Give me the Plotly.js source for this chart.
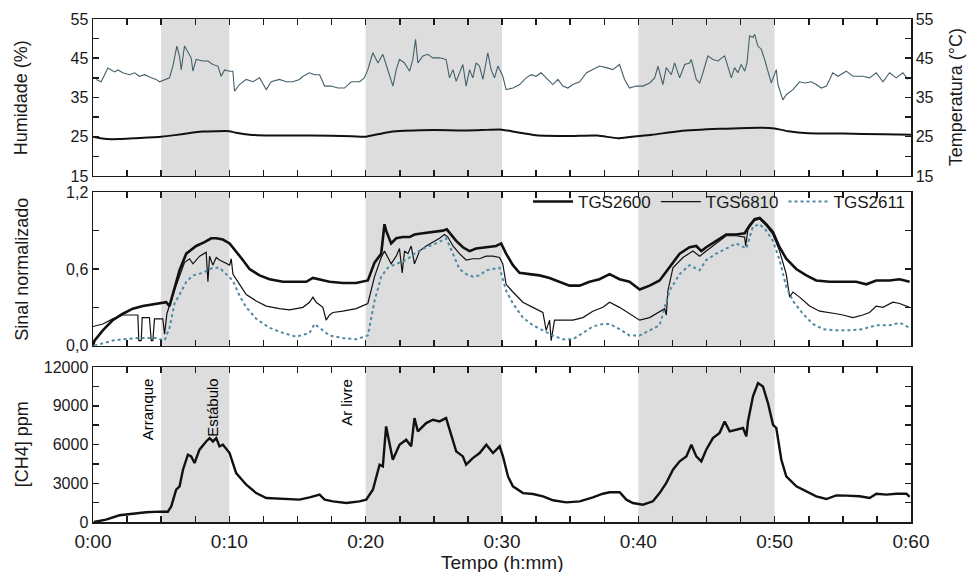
<!DOCTYPE html>
<html>
<head>
<meta charset="utf-8">
<script src="https://cdn.plot.ly/plotly-3.0.1.min.js"></script>
<style>html,body{margin:0;padding:0;background:#fff}#chart{width:968px;height:572px}</style>
</head>
<body>
<div id="chart"></div>
<script>
// ---------- DATA ----------
// Shaded exposure periods (minutes)
const shadeStart = [5, 20, 40];
const shadeEnd   = [10, 30, 50];

// Top panel: humidity (%) and temperature (°C)
const humT = [0.23,0.6,1.09,1.58,1.82,2.19,2.68,3.05,3.41,3.78,4.27,4.63,4.88,5.25,5.61,5.86,6.15,6.35,6.47,6.71,6.96,7.2,7.33,7.57,8.06,8.43,8.79,9.16,9.4,9.65,10.02,10.26,10.38,10.75,11.24,11.73,12.22,12.71,13.07,13.68,14.17,14.66,15.15,15.4,15.88,16.25,16.62,16.99,17.47,17.96,18.45,18.94,19.55,
  19.9,20.16,20.53,20.9,21.26,21.5,22,22.24,22.48,22.85,23.22,23.46,23.66,23.83,24.2,24.56,24.93,25.42,25.9,26.15,26.4,26.64,26.88,27.13,27.37,27.62,27.86,28.1,28.35,28.6,28.96,29.2,29.45,29.7,30.06,30.3,30.8,31.3,31.77,32.14,32.5,32.87,33.24,33.73,34.1,34.46,34.83,35.2,35.7,36.2,36.66,37.15,37.64,38.13,38.62,38.99,39.35,39.84,
  40.34,40.83,41.2,41.44,41.8,42.05,42.42,42.66,43.03,43.4,43.76,43.88,44.25,44.5,44.74,45.1,45.47,45.84,46.33,46.7,46.82,47.06,47.3,47.55,47.8,47.97,48.16,48.4,48.53,48.77,49.02,49.26,49.5,49.75,50.12,50.24,50.6,50.85,51.34,51.83,52.2,52.68,53.05,53.42,53.8,54.27,54.64,55.25,55.74,56.47,56.96,57.45,57.94,58.43,58.92,59.4,59.77];
const humV = [39.6,39,42.5,41.5,42,41.3,40.8,41.3,40.4,40.8,40,39.6,39,39.6,40,43,48.1,45.5,42,48.1,46.4,45.1,41.7,44.7,44.3,44.3,43.4,43,40.4,42,41.7,41.7,36.6,38.3,39.6,39,40,37,39,39.6,39,39,39.6,40.4,41.3,40.8,40.8,37.9,37.9,37.4,37.4,39,39,
  40,42.1,46.4,43.8,46,43.4,37.9,42.1,44.7,43.8,41.7,44.7,49.8,43.8,45.6,46,45.1,45.1,44.7,40,42.1,39.1,41.3,43.4,37.9,42.1,40,43.8,43,39.6,46.4,42.1,40,43,40.4,37,37.4,38.3,40,40.8,40.4,41.3,40,38.3,39.6,37.9,37.4,38.3,39,41.3,42.1,43,42.6,42.1,43.4,39.6,37.4,37.9,
  37.9,38.7,40,43,38.3,42.6,40.8,43.8,40,43.4,43.8,44.7,39.6,38.7,41.3,45.6,44.7,44.3,45.6,41.3,40,42.6,41.3,43.4,41.7,43.8,50.7,50.3,51.1,48.1,47.3,44.7,41.7,38.7,42.1,38.3,34.4,35.7,37,39,38.7,39,38.3,37.4,37.9,41.3,40.4,41.7,40.4,40.4,40,41.3,39,41.3,40,41.3,39.6];

const tempT = [0,1,2,3,5,6,7,8,9,10,10.5,11.5,13,16,19,20,21,22,25,27,28.5,30,31,32.5,35,37,38.5,39.5,41,43,46,49,50,51,52.5,55,58,60];
const tempV = [25,24.4,24.4,24.6,25,25.4,25.9,26.3,26.4,26.4,26,25.5,25.3,25.3,25.1,25,25.7,26.3,26.7,26.6,26.7,26.8,26.2,25.4,25.2,25.3,24.6,25,25.5,26.4,27,27.3,27.1,26.4,25.9,25.8,25.6,25.5];

// Middle panel: normalised sensor signals
const tgs2600T = [0,0.11,0.72,1.45,2.19,2.92,3.66,4.63,5.37,5.61,5.98,6.35,6.84,7.08,7.57,8.18,8.67,9.04,9.52,10.02,10.5,10.99,11.48,12.22,12.95,13.93,14.9,15.64,16.13,16.62,17.35,18.33,19.3,20.16,20.65,21.14,21.38,21.5,21.87,22.24,22.73,23.22,23.58,24.2,24.93,25.66,25.95,26.27,26.64,27.13,27.62,28.1,28.84,29.57,29.94,30.3,30.8,31.28,32.02,32.75,33.49,34.22,34.95,35.69,36.42,37.15,37.89,38.62,39.35,40.1,40.83,41.56,42.29,43.03,43.76,44.25,44.62,44.98,45.72,46.45,47.18,47.8,48.16,48.53,48.9,49.38,49.87,50.36,50.85,51.58,52.32,53.05,54.03,55,55.98,56.72,57.45,58.43,59.16,59.9];
const tgs2600V = [0,0.04,0.12,0.2,0.25,0.29,0.31,0.33,0.34,0.31,0.46,0.59,0.72,0.74,0.78,0.81,0.84,0.84,0.83,0.8,0.74,0.67,0.6,0.55,0.52,0.5,0.5,0.5,0.53,0.52,0.5,0.49,0.49,0.51,0.65,0.72,0.95,0.9,0.8,0.84,0.85,0.85,0.87,0.88,0.89,0.9,0.91,0.87,0.82,0.77,0.74,0.76,0.77,0.78,0.8,0.72,0.63,0.57,0.56,0.55,0.53,0.5,0.47,0.47,0.5,0.52,0.56,0.52,0.5,0.44,0.47,0.51,0.61,0.72,0.77,0.78,0.74,0.77,0.82,0.87,0.87,0.88,0.94,0.99,1.0,0.95,0.89,0.77,0.68,0.6,0.55,0.51,0.5,0.5,0.5,0.48,0.51,0.51,0.52,0.5];

const tgs6810T = [0,0.72,1.45,2.19,2.92,3.29,3.36,3.54,3.61,4.14,4.27,4.39,4.51,5.12,5.25,5.42,5.86,6.35,6.71,7.08,7.33,7.82,8.3,8.43,8.55,8.79,9.04,9.28,9.65,10.02,10.14,10.26,10.75,11.24,11.97,12.71,13.68,14.41,15.4,15.88,16.13,16.37,16.86,17.1,17.35,17.6,18.33,19.3,20.16,20.65,21.14,21.38,21.63,21.87,22.24,22.48,22.68,22.85,23.1,23.34,23.58,23.95,24.44,24.93,25.42,25.78,26.03,26.4,26.88,27.37,27.86,28.35,28.84,29.33,29.82,30.06,30.3,30.8,31.53,32.26,33,33.24,33.49,33.61,33.85,34.46,35.2,35.93,36.66,37.4,37.89,38.62,39.35,40.1,40.83,41.56,41.93,42.05,42.17,42.54,43.27,44,44.5,44.98,45.72,46.45,47.18,47.8,47.87,48.04,48.53,48.9,49.38,49.87,50.36,50.85,51.1,51.34,51.83,52.56,53.3,54.03,54.52,55,55.74,56.47,56.96,57.45,57.94,58.67,59.16,59.9];
const tgs6810V = [0.15,0.17,0.21,0.24,0.24,0.24,0.04,0.04,0.22,0.22,0.04,0.04,0.21,0.21,0.09,0.25,0.4,0.55,0.65,0.68,0.64,0.7,0.73,0.5,0.7,0.63,0.69,0.67,0.65,0.63,0.68,0.56,0.48,0.4,0.35,0.31,0.29,0.28,0.3,0.34,0.38,0.34,0.3,0.2,0.24,0.26,0.27,0.29,0.33,0.54,0.69,0.74,0.69,0.64,0.7,0.76,0.57,0.74,0.72,0.78,0.64,0.74,0.78,0.81,0.84,0.87,0.85,0.78,0.72,0.67,0.68,0.68,0.7,0.7,0.69,0.64,0.48,0.42,0.34,0.3,0.26,0.12,0.2,0.04,0.2,0.2,0.2,0.22,0.27,0.3,0.34,0.3,0.25,0.2,0.22,0.27,0.29,0.24,0.43,0.61,0.69,0.74,0.7,0.74,0.8,0.86,0.86,0.85,0.78,0.91,0.98,0.99,0.94,0.87,0.74,0.56,0.38,0.42,0.38,0.31,0.27,0.26,0.25,0.24,0.22,0.24,0.26,0.31,0.3,0.34,0.33,0.3];

const tgs2611T = [0.1,0.72,1.45,2.19,3.41,4.63,5.25,5.61,5.98,6.35,6.84,7.33,8.06,8.79,9.28,9.77,10.26,10.75,11.24,11.97,12.95,13.93,14.9,15.88,16.25,16.86,17.35,18.33,19.3,20.16,20.65,21.14,21.63,22.24,22.97,23.71,24.44,25.17,25.91,26.4,26.88,27.37,27.86,28.35,28.84,29.33,29.82,30.3,30.8,31.53,32.26,33,33.73,34.46,35.2,35.93,36.66,37.4,37.89,38.62,39.35,40.1,40.83,41.56,42.29,43.03,43.76,44.49,44.98,45.72,46.45,47.18,47.92,48.4,48.9,49.38,49.87,50.36,50.85,51.34,52.07,52.8,53.54,54.52,55.49,56.47,57.45,58.43,59.16,59.9];
const tgs2611V = [0,0.02,0.04,0.05,0.06,0.06,0.04,0.14,0.33,0.4,0.5,0.55,0.57,0.61,0.61,0.56,0.51,0.39,0.3,0.21,0.14,0.1,0.07,0.1,0.17,0.12,0.08,0.06,0.05,0.08,0.35,0.54,0.61,0.64,0.67,0.73,0.77,0.8,0.84,0.72,0.6,0.56,0.54,0.55,0.59,0.6,0.61,0.43,0.33,0.22,0.16,0.12,0.08,0.05,0.05,0.1,0.15,0.17,0.17,0.13,0.08,0.08,0.12,0.16,0.43,0.56,0.63,0.59,0.67,0.72,0.76,0.8,0.76,0.93,0.95,0.9,0.82,0.67,0.46,0.35,0.25,0.17,0.13,0.12,0.12,0.13,0.16,0.16,0.18,0.14];

// Bottom panel: CH4 concentration (ppm)
const ch4T = [0.06,0.96,1.94,2.92,3.9,4.88,5.49,5.74,6.1,6.35,6.6,6.96,7.2,7.45,7.81,8.3,8.55,8.8,9.04,9.28,9.53,10.02,10.5,11.24,11.97,12.71,13.93,15.15,15.89,16.62,16.99,17.6,18.58,19.55,20.04,20.53,21.02,21.26,21.5,21.99,22.48,22.97,23.34,23.58,23.83,24.44,24.93,25.42,25.9,26.27,26.64,27.13,27.37,27.86,28.36,28.85,29.34,29.83,30.07,30.44,30.8,31.54,32.27,33.01,33.74,34.72,35.7,36.67,37.4,37.9,38.63,39.12,39.6,40.34,41.07,41.56,42.05,42.54,43.03,43.52,43.89,44.25,44.62,44.98,45.47,45.96,46.33,46.7,47.19,47.68,47.92,48.04,48.41,48.78,49.14,49.51,49.88,50.12,50.49,50.85,51.59,52.32,53.05,53.79,54.52,55.25,56.23,56.97,57.46,58.19,58.93,59.66,59.9];
const ch4V = [0,180,520,650,750,800,800,1210,2500,2760,4050,5210,5080,4570,5600,6240,6500,6240,6500,5860,5990,5340,3790,2890,2240,1860,1780,1730,1910,2120,1730,1600,1470,1600,1730,2500,4440,4310,7400,4820,5990,6370,5860,8050,7020,7660,7920,7790,8050,6760,5470,5080,4440,4950,5340,5990,5340,5860,5080,3530,2760,2240,2170,1990,1680,1520,1600,1910,2190,2300,2300,1730,1470,1340,1600,2240,3020,4050,4700,5080,5990,5080,4700,5600,6500,6890,7790,7020,7150,7280,6630,7790,9730,10760,10500,9210,7530,7280,4820,3530,2760,2370,1990,1780,2060,2040,1990,1860,2190,2120,2190,2190,1940];

// Tick labels
const xLabelVals = [0, 10, 20, 30, 40, 50, 60];
const xLabels = ['0:00', '0:10', '0:20', '0:30', '0:40', '0:50', '0:60'];
const topLabelVals = [15, 25, 35, 45, 55];
const topLabels = ['15', '25', '35', '45', '55'];
const midLabelVals = [0, 0.6, 1.2];
const midLabels = ['0,0', '0,6', '1,2'];
const botLabelVals = [0, 3000, 6000, 9000, 12000];
const botLabels = ['0', '3000', '6000', '9000', '12000'];

// Event labels in the bottom panel
const eventNames = ['Arranque', 'Estábulo', 'Ar livre'];
const eventT = [4.0, 8.8, 18.6];

// ---------- BUILD ----------
const FONT = 'Liberation Sans, Arial, Helvetica, sans-serif';
const INK = '#1a1a1a';

function ticks(step, lo, hi, labVals, labs) {
  const vals = [], text = [];
  for (let v = lo; v <= hi + 1e-9; v += step) {
    const r = Math.round(v * 1000) / 1000;
    vals.push(r);
    const i = labVals.findIndex(l => Math.abs(l - r) < 1e-6);
    text.push(i >= 0 ? labs[i] : '');
  }
  return {tickvals: vals, ticktext: text};
}

const axBase = {
  showline: true, linecolor: INK, linewidth: 1.5, mirror: 'ticks',
  ticks: 'inside', ticklen: 6, tickwidth: 1.5, tickcolor: INK,
  showgrid: false, zeroline: false, tickmode: 'array',
  tickfont: {family: FONT, size: 16, color: INK}
};

const xt = ticks(2.5, 0, 60, xLabelVals, xLabels);
const xtBlank = {tickvals: xt.tickvals, ticktext: xt.tickvals.map(() => '')};

const traces = [
  {x: humT, y: humV, xaxis: 'x3', yaxis: 'y3', mode: 'lines', name: 'Humidade',
   line: {color: '#44606b', width: 1.1}, showlegend: false},
  {x: tempT, y: tempV, xaxis: 'x3', yaxis: 'y4', mode: 'lines', name: 'Temperatura',
   line: {color: '#111', width: 2, shape: 'spline', smoothing: 0.6}, showlegend: false},
  {x: tgs2600T, y: tgs2600V, xaxis: 'x2', yaxis: 'y2', mode: 'lines', name: 'TGS2600',
   line: {color: '#111', width: 2.6}},
  {x: tgs6810T, y: tgs6810V, xaxis: 'x2', yaxis: 'y2', mode: 'lines', name: 'TGS6810',
   line: {color: '#111', width: 1.2}},
  {x: tgs2611T, y: tgs2611V, xaxis: 'x2', yaxis: 'y2', mode: 'lines', name: 'TGS2611',
   line: {color: '#4f8aa3', width: 2, dash: 'dot'}},
  {x: ch4T, y: ch4V, xaxis: 'x', yaxis: 'y', mode: 'lines', name: '[CH4]',
   line: {color: '#111', width: 2.4}, showlegend: false}
];

const shapes = [];
[['x', 'y'], ['x2', 'y2'], ['x3', 'y3']].forEach(([xa, ya]) => {
  shadeStart.forEach((s, i) => {
    shapes.push({type: 'rect', xref: xa, yref: ya + ' domain', x0: s, x1: shadeEnd[i], y0: 0, y1: 1,
      fillcolor: '#dddddd', line: {width: 0}, layer: 'below'});
  });
});

const titleFont = {family: FONT, size: 18, color: INK};
const annotations = [
  {text: 'Humidade (%)', xref: 'paper', yref: 'paper', x: -0.087, y: 0.844, textangle: -90,
   xanchor: 'center', yanchor: 'middle', showarrow: false, font: titleFont},
  {text: 'Temperatura (°C)', xref: 'paper', yref: 'paper', x: 1.056, y: 0.844, textangle: -90,
   xanchor: 'center', yanchor: 'middle', showarrow: false, font: titleFont},
  {text: 'Sinal normalizado', xref: 'paper', yref: 'paper', x: -0.087, y: 0.503, textangle: -90,
   xanchor: 'center', yanchor: 'middle', showarrow: false, font: titleFont},
  {text: '[CH4] ppm', xref: 'paper', yref: 'paper', x: -0.087, y: 0.154, textangle: -90,
   xanchor: 'center', yanchor: 'middle', showarrow: false, font: titleFont},
  {text: 'Tempo (h:mm)', xref: 'paper', yref: 'paper', x: 0.5, y: -0.081, yanchor: 'middle',
   xanchor: 'center', showarrow: false, font: {family: FONT, size: 19, color: INK}}
];
eventNames.forEach((n, i) => {
  annotations.push({text: n, xref: 'x', yref: 'y', x: eventT[i], y: 11250, yanchor: 'top',
    xanchor: 'center', textangle: -90, showarrow: false,
    font: {family: FONT, size: 15, color: '#000'}});
});

const layout = {
  width: 968, height: 572,
  margin: {l: 93, r: 57, t: 19, b: 50},
  paper_bgcolor: '#fff', plot_bgcolor: '#fff',
  font: {family: FONT, color: INK},
  showlegend: true,
  legend: {orientation: 'h', x: 1, xanchor: 'right', y: 0.672, yanchor: 'top',
    font: {family: FONT, size: 17, color: INK}, bgcolor: 'rgba(0,0,0,0)', itemwidth: 40,
    traceorder: 'normal'},
  xaxis: Object.assign({}, axBase, {domain: [0, 1], range: [0, 60], anchor: 'y',
    tickvals: xt.tickvals, ticktext: xt.ticktext, ticklabelstandoff: 2,
    tickfont: {family: FONT, size: 19, color: INK}}),
  xaxis2: Object.assign({}, axBase, {domain: [0, 1], range: [0, 60], anchor: 'y2', matches: 'x'},
    xtBlank),
  xaxis3: Object.assign({}, axBase, {domain: [0, 1], range: [0, 60], anchor: 'y3', matches: 'x'},
    xtBlank),
  yaxis: Object.assign({}, axBase, {domain: [0, 0.308], range: [0, 12000], anchor: 'x'},
    ticks(1500, 0, 12000, botLabelVals, botLabels)),
  yaxis2: Object.assign({}, axBase, {domain: [0.3505, 0.6555], range: [0, 1.2], anchor: 'x2'},
    ticks(0.3, 0, 1.2, midLabelVals, midLabels)),
  yaxis3: Object.assign({}, axBase, {domain: [0.688, 1], range: [15, 55], anchor: 'x3'},
    ticks(5, 15, 55, topLabelVals, topLabels)),
  yaxis4: Object.assign({}, axBase, {range: [15, 55], anchor: 'x3', overlaying: 'y3', side: 'right'},
    ticks(5, 15, 55, topLabelVals, topLabels)),
  shapes: shapes,
  annotations: annotations
};

Plotly.newPlot('chart', traces, layout, {displayModeBar: false, staticPlot: true});
</script>
</body>
</html>
